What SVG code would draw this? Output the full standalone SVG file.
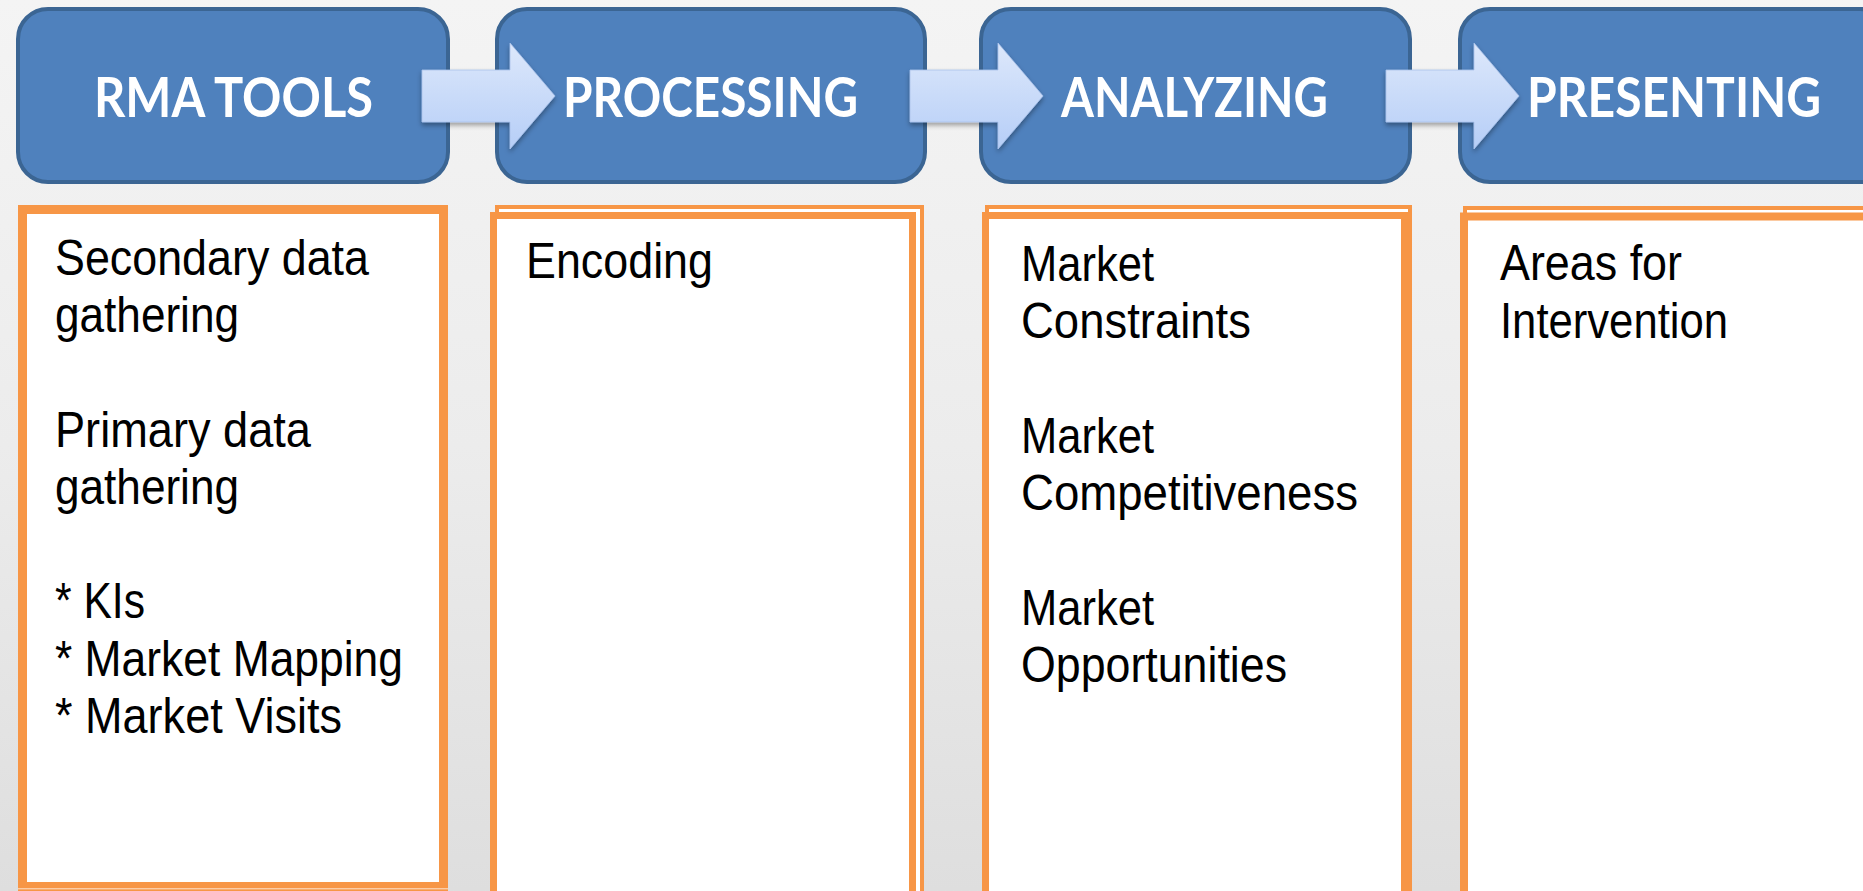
<svg xmlns="http://www.w3.org/2000/svg" width="1863" height="891" viewBox="0 0 1863 891">
<defs>
<linearGradient id="bg" x1="0" y1="0" x2="0" y2="1">
<stop offset="0" stop-color="#f4f4f4"/>
<stop offset="0.5" stop-color="#ececec"/>
<stop offset="1" stop-color="#dedede"/>
</linearGradient>
<linearGradient id="arrowFill" x1="0" y1="0" x2="0" y2="1">
<stop offset="0" stop-color="#dde8fb"/>
<stop offset="1" stop-color="#b6cef7"/>
</linearGradient>
<filter id="shadow" x="-20%" y="-20%" width="140%" height="160%">
<feDropShadow dx="0" dy="3" stdDeviation="2.5" flood-color="#000" flood-opacity="0.35"/>
</filter>
</defs>
<style>
.stage{fill:#4f81bd;stroke:#3b6593;stroke-width:4}
.stitle{font-family:Lato,"Open Sans","Liberation Sans",sans-serif;font-weight:bold;font-size:56px;fill:#ffffff}
.panel{fill:#ffffff;stroke:#f79646}
.body{font-family:"Liberation Sans",Arial,sans-serif;font-size:50px;fill:#000000}
.arrow{fill:url(#arrowFill);stroke:#a9c2ea;stroke-width:0.8}
</style>
<rect x="0" y="0" width="1863" height="891" fill="url(#bg)"/>

<g id="stage-rma-tools">
<rect class="stage" x="18" y="9" width="430" height="173" rx="30" ry="30"/>
<text class="stitle" x="94" y="117" textLength="279" lengthAdjust="spacingAndGlyphs">RMA TOOLS</text>
</g>
<g id="stage-processing">
<rect class="stage" x="497" y="9" width="428" height="173" rx="30" ry="30"/>
<text class="stitle" x="563" y="117" textLength="295" lengthAdjust="spacingAndGlyphs">PROCESSING</text>
</g>
<g id="stage-analyzing">
<rect class="stage" x="981" y="9" width="429" height="173" rx="30" ry="30"/>
<text class="stitle" x="1061" y="117" textLength="267" lengthAdjust="spacingAndGlyphs">ANALYZING</text>
</g>
<g id="stage-presenting">
<rect class="stage" x="1460" y="9" width="430" height="173" rx="30" ry="30"/>
<text class="stitle" x="1527" y="117" textLength="294" lengthAdjust="spacingAndGlyphs">PRESENTING</text>
</g>

<g id="connectors">
<path class="arrow" filter="url(#shadow)" d="M422,70 L510,70 L510,43 L555,96 L510,149 L510,122 L422,122 Z"/>
<path class="arrow" filter="url(#shadow)" d="M910,70 L998,70 L998,43 L1043,96 L998,149 L998,122 L910,122 Z"/>
<path class="arrow" filter="url(#shadow)" d="M1386,70 L1474,70 L1474,43 L1519,96 L1474,149 L1474,122 L1386,122 Z"/>
</g>

<g id="panel-rma-tools">
<rect class="panel" x="22.5" y="209.5" width="421" height="677" stroke-width="9"/>
<line x1="18" y1="888.8" x2="448" y2="888.8" stroke="#fde3cf" stroke-width="1"/>
<text class="body" x="55" y="275" textLength="314" lengthAdjust="spacingAndGlyphs">Secondary data</text>
<text class="body" x="55" y="332" textLength="184" lengthAdjust="spacingAndGlyphs">gathering</text>
<text class="body" x="55" y="447" textLength="256" lengthAdjust="spacingAndGlyphs">Primary data</text>
<text class="body" x="55" y="504" textLength="184" lengthAdjust="spacingAndGlyphs">gathering</text>
<text class="body" x="55" y="618" textLength="90" lengthAdjust="spacingAndGlyphs">* KIs</text>
<text class="body" x="55" y="676" textLength="348" lengthAdjust="spacingAndGlyphs">* Market Mapping</text>
<text class="body" x="55" y="733" textLength="287" lengthAdjust="spacingAndGlyphs">* Market Visits</text>
</g>

<g id="panel-processing">
<rect class="panel" x="497" y="207" width="425" height="720" stroke-width="4"/>
<rect class="panel" x="493.5" y="215.5" width="419" height="720" stroke-width="7"/>
<text class="body" x="526" y="278" textLength="187" lengthAdjust="spacingAndGlyphs">Encoding</text>
</g>

<g id="panel-analyzing">
<rect class="panel" x="987" y="207" width="423" height="720" stroke-width="4"/>
<rect class="panel" x="985.5" y="215.5" width="419" height="720" stroke-width="7"/>
<text class="body" x="1021" y="281" textLength="133" lengthAdjust="spacingAndGlyphs">Market</text>
<text class="body" x="1021" y="338" textLength="230" lengthAdjust="spacingAndGlyphs">Constraints</text>
<text class="body" x="1021" y="453" textLength="133" lengthAdjust="spacingAndGlyphs">Market</text>
<text class="body" x="1021" y="510" textLength="337" lengthAdjust="spacingAndGlyphs">Competitiveness</text>
<text class="body" x="1021" y="625" textLength="133" lengthAdjust="spacingAndGlyphs">Market</text>
<text class="body" x="1021" y="682" textLength="266" lengthAdjust="spacingAndGlyphs">Opportunities</text>
</g>

<g id="panel-presenting">
<rect class="panel" x="1465" y="208" width="440" height="720" stroke-width="4"/>
<rect class="panel" x="1464" y="216.5" width="440" height="720" stroke-width="8"/>
<text class="body" x="1500" y="280" textLength="182" lengthAdjust="spacingAndGlyphs">Areas for</text>
<text class="body" x="1500" y="338" textLength="228" lengthAdjust="spacingAndGlyphs">Intervention</text>
</g>
</svg>
